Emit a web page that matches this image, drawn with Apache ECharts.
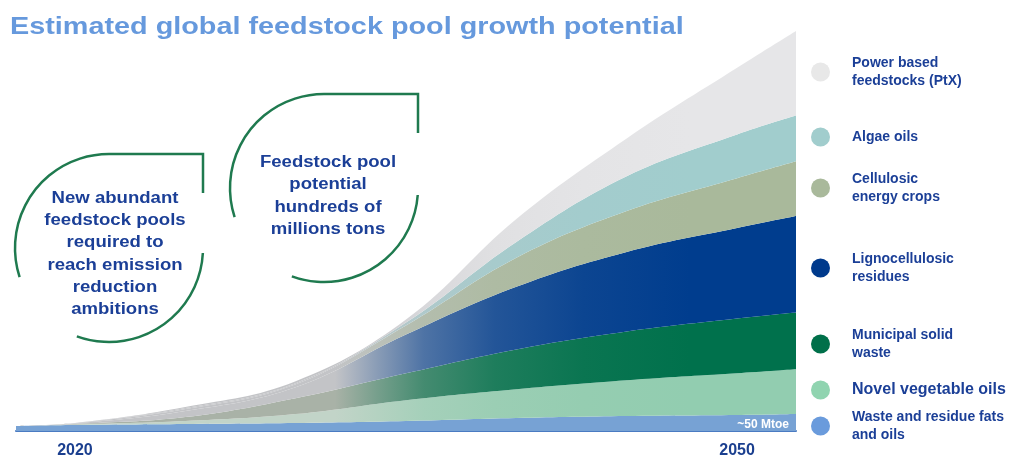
<!DOCTYPE html>
<html>
<head>
<meta charset="utf-8">
<script src="https://cdn.jsdelivr.net/npm/echarts@6/dist/echarts.min.js"></script>
<style>
html,body{margin:0;padding:0;background:#fff;}
#c{width:1014px;height:459px;}
</style>
</head>
<body>
<div id="c"></div>
<script>
// ---- data ----
const years = [2017.33, 2020, 2025, 2030, 2035, 2040, 2045, 2050, 2052.67];
const xLabels = [2020, 2050];
const wasteFats   = [5, 6, 7, 8, 10, 13, 15, 16, 17];
const novelOils   = [0, 0.5, 3, 9, 21, 29, 36, 42, 45];
const municipal   = [0, 0.5, 4, 16, 27, 40, 49, 55, 57];
const ligno       = [0, 0.5, 6, 11, 39, 63, 80, 91, 97];
const cellulosic  = [0, 0.5, 2, 3, 9, 29, 41, 50, 55];
const algae       = [0, 0, 1, 1, 3, 16, 35, 44, 46];
const ptx         = [0, 0, 1, 2, 3, 23, 38, 67, 85];
const seriesNames = [
  'Waste and residue fats and oils',
  'Novel vegetable oils',
  'Municipal solid waste',
  'Lignocellulosic residues',
  'Cellulosic energy crops',
  'Algae oils',
  'Power based feedstocks (PtX)'
];
const legendLabels = {
  'Power based feedstocks (PtX)': 'Power based\nfeedstocks (PtX)',
  'Algae oils': 'Algae oils',
  'Cellulosic energy crops': 'Cellulosic\nenergy crops',
  'Lignocellulosic residues': 'Lignocellulosic\nresidues',
  'Municipal solid waste': 'Municipal solid\nwaste',
  'Novel vegetable oils': 'Novel vegetable oils',
  'Waste and residue fats and oils': 'Waste and residue fats\nand oils'
};
const annotation = '~50 Mtoe';
const bubble1 = 'New abundant\nfeedstock pools\nrequired to\nreach emission\nreduction\nambitions';
const bubble2 = 'Feedstock pool\npotential\nhundreds of\nmillions tons';
const titleText = 'Estimated global feedstock pool growth potential';

// ---- styles ----
const fullColors = ['#77a2d4', '#92cdb0', '#00714c', '#003d8e', '#a9b99b', '#a1cdcd', '#e6e6e8'];
const legendColors = ['#6a9bdc', '#90d4b0', '#00704a', '#003a8c', '#a9b99b', '#a1cdcd', '#e8e8e8'];
const fadeColors = [null, '#c2d4c8', '#a9b2a7', '#c3c4c7', '#c3c4c7', '#c3c4c7', '#c3c4c7'];

function hex2rgb(h){h=h.replace('#','');return [parseInt(h.substr(0,2),16),parseInt(h.substr(2,2),16),parseInt(h.substr(4,2),16)];}
function mix(a,b,t){const A=hex2rgb(a),B=hex2rgb(b);return 'rgb('+A.map((v,i)=>Math.round(v+(B[i]-v)*t)).join(',')+')';}
function fadeGradient(gray, col){
  const stops=[];
  const ts=[[0,0],[0.12,0.3],[0.25,0.6],[0.45,0.82],[0.7,0.94],[1,1]];
  ts.forEach(([o,t])=>stops.push({offset:o,color:mix(gray,col,t)}));
  return new echarts.graphic.LinearGradient(335,0,690,0,stops,true);
}

const dataSets = [wasteFats, novelOils, municipal, ligno, cellulosic, algae, ptx];
// value first, year second, so that stacking happens on the value dimension
const series = dataSets.map((arr, i) => ({
  name: seriesNames[i],
  type: 'line',
  stack: 'pool',
  smooth: 0.4,
  showSymbol: false,
  silent: true,
  encode: {x: 1, y: 0},
  lineStyle: {width: 0},
  itemStyle: {color: legendColors[i]},
  areaStyle: {opacity: 1, color: fadeColors[i] ? fadeGradient(fadeColors[i], fullColors[i]) : fullColors[i]},
  data: years.map((y, k) => [arr[k], y]),
  z: 2
}));

// legend entries (one component per entry for the uneven spacing)
const legendCenters = {
  'Power based feedstocks (PtX)': 72,
  'Algae oils': 137,
  'Cellulosic energy crops': 188,
  'Lignocellulosic residues': 268,
  'Municipal solid waste': 344,
  'Novel vegetable oils': 390,
  'Waste and residue fats and oils': 426
};
const legends = Object.keys(legendCenters).map(name => {
  const twoLines = legendLabels[name].indexOf('\n') >= 0;
  const h = twoLines ? 36 : 19;
  const big = name === 'Novel vegetable oils';
  return {
    data: [name],
    left: 811,
    top: legendCenters[name] - h / 2,
    padding: 0,
    icon: 'circle',
    itemWidth: 19,
    itemHeight: 19,
    selectedMode: false,
    formatter: n => legendLabels[n],
    textStyle: {
      color: '#1b3f97',
      fontFamily: 'Arial',
      fontWeight: 'bold',
      fontSize: big ? 16 : 14,
      lineHeight: 18,
      padding: [0, 0, 0, 17]
    }
  };
});

function leaf(cx, cy, r, cutTop, resume){
  const st = {stroke: '#1f7a4f', lineWidth: 2.5, fill: null};
  return [
    {type:'polyline', shape:{points:[[cx, cy-r],[cx+r, cy-r],[cx+r, cy-cutTop]]}, style:st, silent:true},
    {type:'arc', shape:{cx:cx, cy:cy, r:r, startAngle: Math.asin(resume/r), endAngle: 110*Math.PI/180, clockwise:true}, style:st, silent:true},
    {type:'arc', shape:{cx:cx, cy:cy, r:r, startAngle: 162*Math.PI/180, endAngle: 270*Math.PI/180, clockwise:true}, style:st, silent:true}
  ];
}

const chart = echarts.init(document.getElementById('c'), null, {renderer:'canvas'});
chart.setOption({
  animation: false,
  backgroundColor: '#fff',
  legend: legends,
  grid: {left: 16, right: 218, top: 30, bottom: 26},
  xAxis: {
    type: 'value',
    min: years[0], max: years[years.length-1],
    axisLine: {show:true, lineStyle:{color:'#4a7bc2', width:2}},
    axisTick: {show:false},
    splitLine: {show:false},
    axisLabel: {
      customValues: xLabels,
      margin: 12,
      color: '#1b3f8f', fontSize: 16, fontWeight: 'bold', fontFamily: 'Arial',
      formatter: v => String(Math.round(v))
    }
  },
  yAxis: {type:'value', min:0, max:403, show:false, splitLine:{show:false}},
  series: series,
  graphic: [
    {type:'text', x:10, y:27, scaleX:1.2, silent:true, style:{text:titleText, textAlign:'left', textVerticalAlign:'middle', font:'bold 24px Arial', fill:'#6699dd'}},
    ...leaf(109, 248, 94, 55, 5),
    ...leaf(324, 188, 94, 55, 7),
    {type:'text', x:115, y:254, scaleX:1.16, silent:true, style:{text:bubble1, textAlign:'center', textVerticalAlign:'middle', font:'bold 16px Arial', fill:'#1b3f97', lineHeight:22.3}},
    {type:'text', x:328, y:196, scaleX:1.16, silent:true, style:{text:bubble2, textAlign:'center', textVerticalAlign:'middle', font:'bold 16px Arial', fill:'#1b3f97', lineHeight:22.3}},
    {type:'text', x:789, y:425, z:10, silent:true, style:{text:annotation, textAlign:'right', textVerticalAlign:'middle', font:'bold 12px Arial', fill:'#ffffff'}}
  ]
});
</script>
</body>
</html>
